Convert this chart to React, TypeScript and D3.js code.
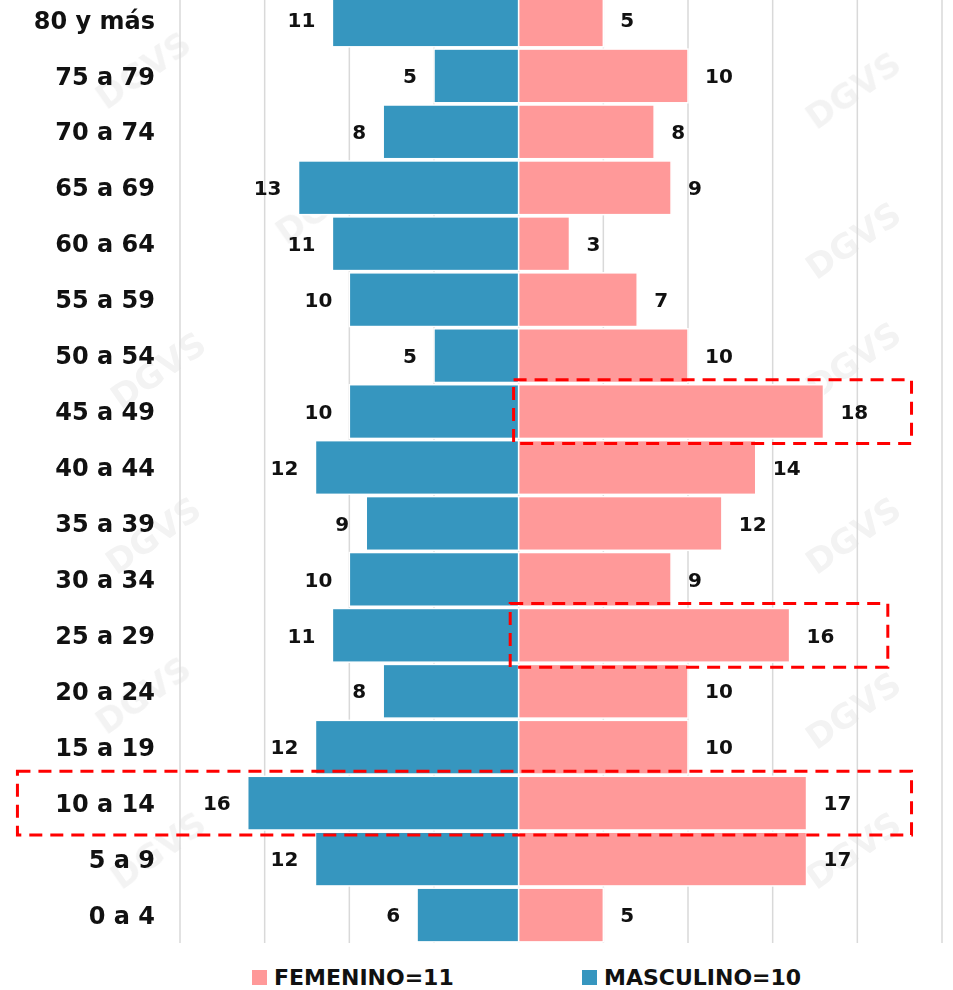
import React, { useEffect, useRef } from 'react';
import * as d3 from 'd3';

// age groups, top to bottom
const categories = [
  '80 y más', '75 a 79', '70 a 74', '65 a 69', '60 a 64', '55 a 59', '50 a 54', '45 a 49',
  '40 a 44', '35 a 39', '30 a 34', '25 a 29', '20 a 24', '15 a 19', '10 a 14', '5 a 9', '0 a 4',
];
const masculino = [11, 5, 8, 13, 11, 10, 5, 10, 12, 9, 10, 11, 8, 12, 16, 12, 6];
const femenino = [5, 10, 8, 9, 3, 7, 10, 18, 14, 12, 9, 16, 10, 10, 17, 17, 5];
const gridTicks = [-20, -15, -10, -5, 0, 5, 10, 15, 20, 25];
const legendItems = [
  { label: 'FEMENINO=11', color: '#FF9999' },
  { label: 'MASCULINO=10', color: '#3696BF' },
];
// dashed highlight boxes: row + span in value units
const highlights = [
  { cat: '45 a 49', from: -0.3, to: 23.2 },
  { cat: '25 a 29', from: -0.5, to: 21.8 },
  { cat: '10 a 14', from: -29.6, to: 23.2 },
];

const FONT = '"DejaVu Sans", sans-serif';

const App = () => {
  const ref = useRef<SVGSVGElement>(null);

  useEffect(() => {
    const W = 953, H = 990;
    const svg = d3.select(ref.current).attr('width', W).attr('height', H);
    svg.selectAll('*').remove();

    const x = d3.scaleLinear().domain([-20, 25]).range([180, 942]);
    const y = d3.scaleBand<string>().domain(categories).range([-8, 943]).paddingInner(0.04).paddingOuter(0.02);

    // faint watermark
    const wm = svg.append('g').attr('fill', '#000').attr('opacity', 0.05)
      .style('font-family', FONT).style('font-weight', 'bold').style('font-size', '34px');
    const wmPos = [[150, 80], [860, 100], [165, 380], [860, 370], [160, 545], [860, 545], [165, 860], [860, 860], [150, 705], [860, 720], [330, 215], [860, 250]];
    wmPos.forEach(([px, py]) => {
      wm.append('text').attr('transform', `translate(${px},${py}) rotate(-35)`)
        .attr('text-anchor', 'middle').text('DGVS');
    });

    // grid
    svg.append('g').selectAll('line').data(gridTicks).enter().append('line')
      .attr('x1', d => x(d)).attr('x2', d => x(d))
      .attr('y1', 0).attr('y2', 943)
      .attr('stroke', '#d9d9d9').attr('stroke-width', 1.5);

    const rows = categories.map((c, i) => ({ cat: c, m: masculino[i], f: femenino[i] }));

    svg.append('g').selectAll('rect').data(rows).enter().append('rect')
      .attr('x', d => x(-d.m)).attr('width', d => x(0) - x(-d.m))
      .attr('y', d => y(d.cat)!).attr('height', y.bandwidth())
      .attr('fill', '#3696BF').attr('stroke', '#fff').attr('stroke-width', 1.5);

    svg.append('g').selectAll('rect').data(rows).enter().append('rect')
      .attr('x', x(0)).attr('width', d => x(d.f) - x(0))
      .attr('y', d => y(d.cat)!).attr('height', y.bandwidth())
      .attr('fill', '#FF9999').attr('stroke', '#fff').attr('stroke-width', 1.5);

    const labels = svg.append('g').style('font-family', FONT).style('font-weight', 'bold').attr('fill', '#111');

    labels.selectAll('.cat').data(rows).enter().append('text')
      .attr('x', 155).attr('y', d => y(d.cat)! + y.bandwidth() / 2)
      .attr('dy', '0.36em').attr('text-anchor', 'end').style('font-size', '24px')
      .text(d => d.cat);

    labels.selectAll('.m').data(rows).enter().append('text')
      .attr('x', d => x(-d.m) - 17).attr('y', d => y(d.cat)! + y.bandwidth() / 2)
      .attr('dy', '0.36em').attr('text-anchor', 'end').style('font-size', '20px')
      .text(d => d.m);

    labels.selectAll('.f').data(rows).enter().append('text')
      .attr('x', d => x(d.f) + 17).attr('y', d => y(d.cat)! + y.bandwidth() / 2)
      .attr('dy', '0.36em').attr('text-anchor', 'start').style('font-size', '20px')
      .text(d => d.f);

    // highlight boxes
    svg.append('g').selectAll('rect').data(highlights).enter().append('rect')
      .attr('x', d => x(d.from)).attr('width', d => x(d.to) - x(d.from))
      .attr('y', d => y(d.cat)! - 5).attr('height', y.bandwidth() + 10)
      .attr('fill', 'none').attr('stroke', '#FF0000').attr('stroke-width', 3)
      .attr('stroke-dasharray', '13,8');

    // legend
    const legX = [252, 582];
    const leg = svg.append('g').selectAll('g').data(legendItems).enter().append('g')
      .attr('transform', (d, i) => `translate(${legX[i]},970)`);
    leg.append('rect').attr('width', 15).attr('height', 15).attr('fill', d => d.color);
    leg.append('text').attr('x', 22).attr('y', 15)
      .style('font-family', FONT).style('font-weight', 'bold').style('font-size', '22px')
      .attr('fill', '#111').text(d => d.label);
  }, []);

  return (
    <div style={{ position: 'absolute', left: 0, top: 0, background: '#fff' }}>
      <svg ref={ref} style={{ display: 'block' }}></svg>
    </div>
  );
};

export default App;
